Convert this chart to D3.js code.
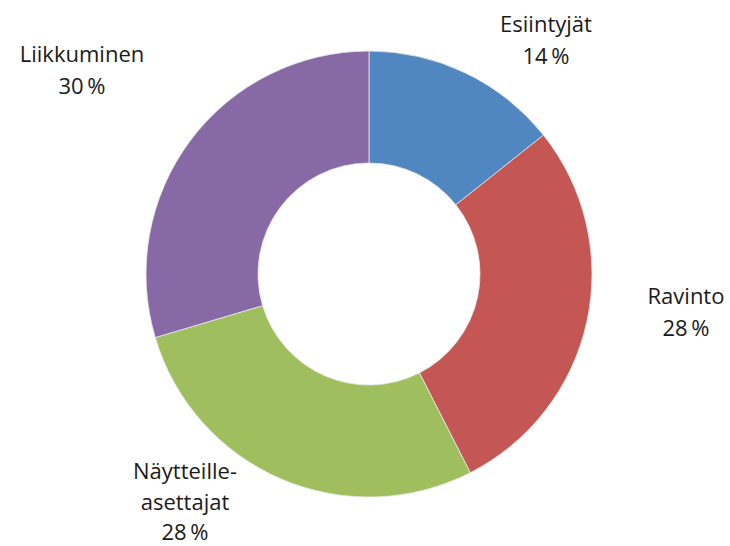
<!DOCTYPE html>
<html>
<head>
<meta charset="utf-8">
<script src="https://cdn.jsdelivr.net/npm/d3@7"></script>
<style>
  body { margin: 0; background: #fff; }
  text { font-family: "Open Sans", Lato, sans-serif; fill: #1a1a1a; }
</style>
</head>
<body>
<div id="chart"></div>
<script>
// data
var categories = ["Esiintyjät", "Ravinto", "Näytteille-\nasettajat", "Liikkuminen"];
var shares = [14.3, 28.2, 27.9, 29.6];
var colors = ["#5087C0", "#C45753", "#9FBF5E", "#8669A5"];

var width = 730, height = 546;
var cx = 369, cy = 274, outerR = 223, innerR = 111;

// where each label block starts (first baseline), per slice
var labelAt = [[546, 32], [686, 304], [185, 479], [82, 62]];
var lineH = [31.5, 31.5, 30.5, 31.5];

var fmt = function(v) { return d3.format(".0f")(v) + "\u2009%"; };

var svg = d3.select("#chart")
    .append("svg")
    .attr("width", width)
    .attr("height", height);

var pie = d3.pie().sort(null).value(function(d) { return d; });
var arc = d3.arc().innerRadius(innerR).outerRadius(outerR);

var g = svg.append("g").attr("transform", "translate(" + cx + "," + cy + ")");

g.selectAll("path")
    .data(pie(shares))
  .enter().append("path")
    .attr("d", arc)
    .style("fill", function(d, i) { return colors[i]; })
    .style("stroke", "#e8e8e8")
    .style("stroke-width", 0.8);

var labels = svg.selectAll("text.lbl")
    .data(categories)
  .enter().append("text")
    .attr("class", "lbl")
    .attr("text-anchor", "middle")
    .style("font-size", "22px");

labels.each(function(name, i) {
  var lines = name.split("\n").concat([fmt(shares[i])]);
  var t = d3.select(this);
  lines.forEach(function(s, k) {
    t.append("tspan")
      .attr("x", labelAt[i][0])
      .attr("y", labelAt[i][1] + k * lineH[i])
      .text(s);
  });
});
</script>
</body>
</html>
